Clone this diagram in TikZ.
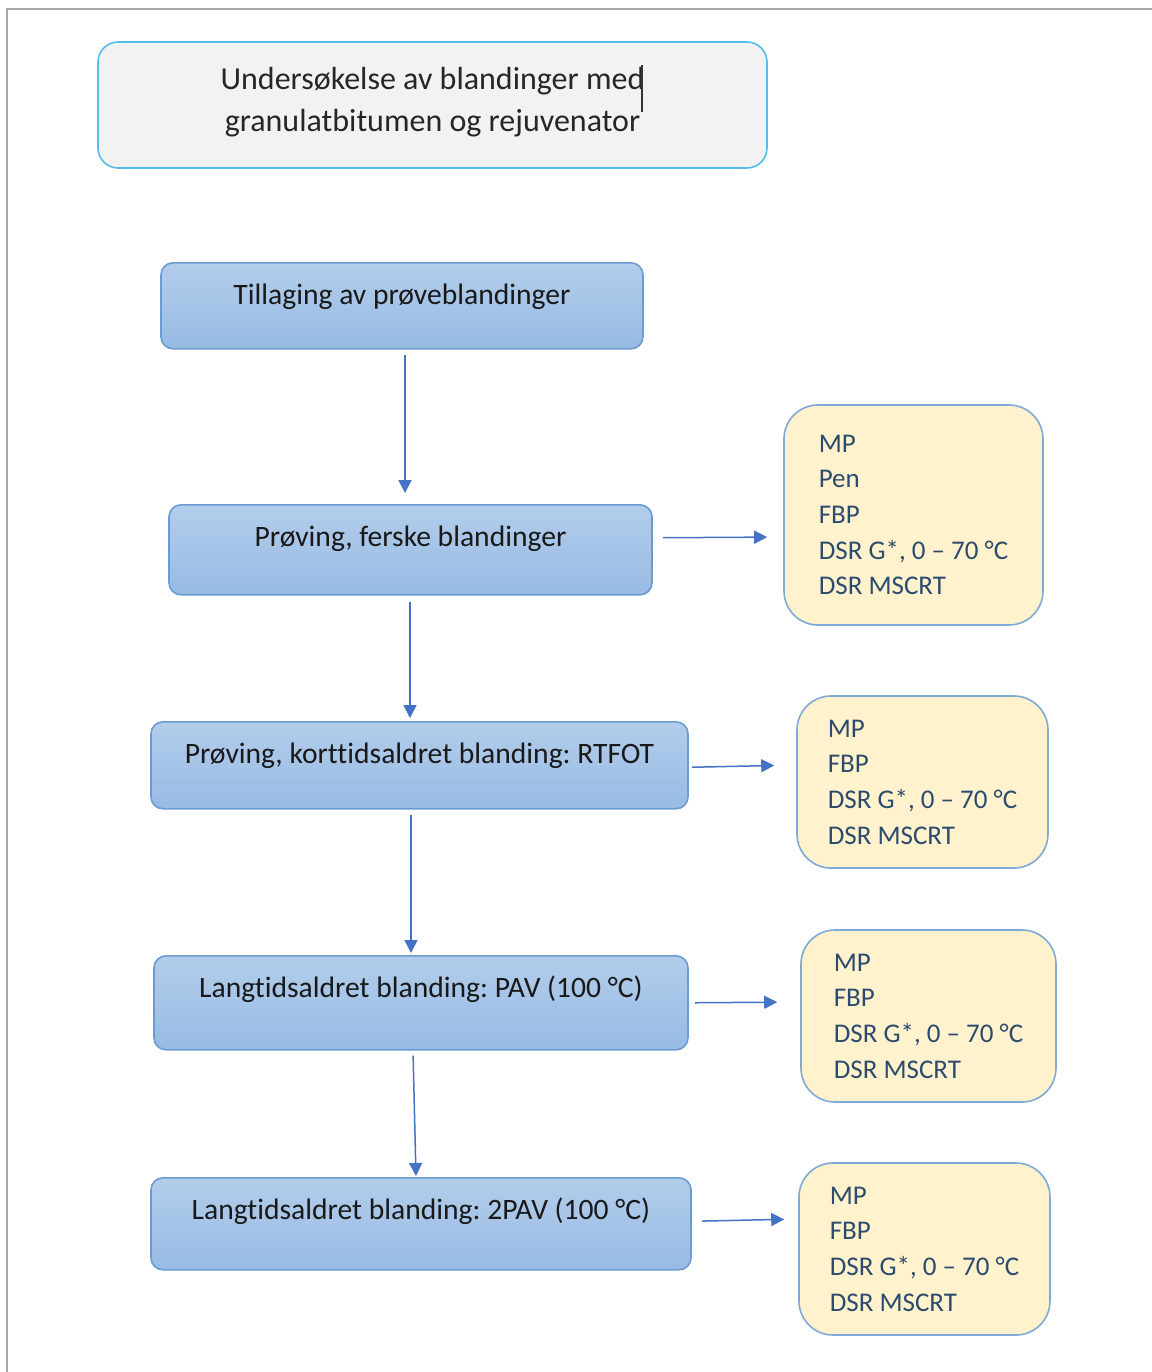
\documentclass[tikz,border=0pt]{standalone}
\usepackage{fontspec}
\setmainfont{Carlito}[Ligatures=NoCommon]
\usetikzlibrary{arrows.meta}
\frenchspacing

\definecolor{titlefill}{HTML}{F2F2F2}
\definecolor{titleline}{HTML}{56BDEB}
\definecolor{stagetop}{HTML}{B3CDEB}
\definecolor{stagebot}{HTML}{97BBE4}
\definecolor{stageline}{HTML}{6C9BD2}
\definecolor{testfill}{HTML}{FFF2CC}
\definecolor{testline}{HTML}{7FA9D6}
\definecolor{testtext}{HTML}{2D4B6E}
\definecolor{flow}{HTML}{4472C4}
\definecolor{frame}{HTML}{A6A6A6}

\tikzset{
  titlebox/.style={draw=titleline, line width=0.8pt, fill=titlefill, rounded corners=10pt,
    align=center, text=black!85, font=\fontsize{16}{21}\selectfont},
  stage/.style={draw=stageline, line width=0.8pt, top color=stagetop, bottom color=stagebot,
    rounded corners=6pt, anchor=north, inner ysep=0pt, text height=21pt, text=black!90,
    font=\fontsize{14.8}{18}\selectfont},
  tests/.style={draw=testline, line width=0.8pt, fill=testfill, rounded corners=17pt,
    align=left, text=testtext, font=\fontsize{13.5}{17.85}\selectfont},
  flowarrow/.style={draw=flow, line width=0.75pt, -{Triangle[length=6.5pt,width=6.5pt]}}
}

\begin{document}
\begin{tikzpicture}[x=0.5pt, y=-0.5pt]
    \useasboundingbox (0,0) rectangle (1152,1372);
    \draw[frame, line width=1pt] (7,1372) -- (7,9) -- (1152,9);

    \node[titlebox, minimum width=334.5pt, minimum height=63pt, text depth=6pt] (head) at (432.5,105)
        {Undersøkelse av blandinger med\\granulatbitumen og rejuvenator};
    \draw[black!80, line width=0.6pt] (642,65) -- (642,112);

    \node[stage, minimum width=241pt, text depth=22pt] (mix) at (402,262) {Tillaging av prøveblandinger};
    \node[stage, minimum width=241.5pt, text depth=24pt] (fresh) at (410.5,504) {Prøving, ferske blandinger};
    \node[stage, minimum width=268.5pt, text depth=22.5pt] (rtfot) at (419.5,721) {Prøving, korttidsaldret blanding: RTFOT};
    \node[stage, minimum width=267pt, text depth=26pt] (pav) at (421,955) {Langtidsaldret blanding: PAV (100 °C)};
    \node[stage, minimum width=270pt, text depth=25pt] (twopav) at (421,1177) {Langtidsaldret blanding: 2PAV (100 °C)};

    \node[tests, minimum width=129.5pt, minimum height=110pt] (freshtests) at (913.5,515)
        {MP\\Pen\\FBP\\DSR G*, 0 – 70 °C\\DSR MSCRT};
    \node[tests, minimum width=125.5pt, minimum height=86pt] (rtfottests) at (922.5,782)
        {MP\\FBP\\DSR G*, 0 – 70 °C\\DSR MSCRT};
    \node[tests, minimum width=127.5pt, minimum height=86pt] (pavtests) at (928.5,1016)
        {MP\\FBP\\DSR G*, 0 – 70 °C\\DSR MSCRT};
    \node[tests, minimum width=125.5pt, minimum height=86pt] (twopavtests) at (924.5,1249)
        {MP\\FBP\\DSR G*, 0 – 70 °C\\DSR MSCRT};

    \draw[flowarrow, shorten <=2.5pt, shorten >=5.5pt] ([xshift=1.5pt]mix.south) -- ([xshift=-2.75pt]fresh.north);
    \draw[flowarrow, shorten <=3pt, shorten >=1.5pt] ([xshift=-0.25pt]fresh.south) -- ([xshift=-4.75pt]rtfot.north);
    \draw[flowarrow, shorten <=2.5pt, shorten >=1pt] ([xshift=-4.25pt]rtfot.south) -- ([xshift=-5pt]pav.north);
    \draw[flowarrow, shorten <=2.5pt, shorten >=0.5pt] ([xshift=-4pt]pav.south) -- ([xshift=-2.5pt]twopav.north);

    \draw[flowarrow, shorten <=5pt, shorten >=8pt] ([yshift=6pt]fresh.east) -- ([yshift=-11pt]freshtests.west);
    \draw[flowarrow, shorten <=1.5pt, shorten >=11pt] ([yshift=-1pt]rtfot.east) -- ([yshift=8.5pt]rtfottests.west);
    \draw[flowarrow, shorten <=3pt, shorten >=11.5pt] (pav.east) -- ([yshift=7pt]pavtests.west);
    \draw[flowarrow, shorten <=5pt, shorten >=7pt] ([yshift=1.25pt]twopav.east) -- ([yshift=15pt]twopavtests.west);
\end{tikzpicture}
\end{document}
